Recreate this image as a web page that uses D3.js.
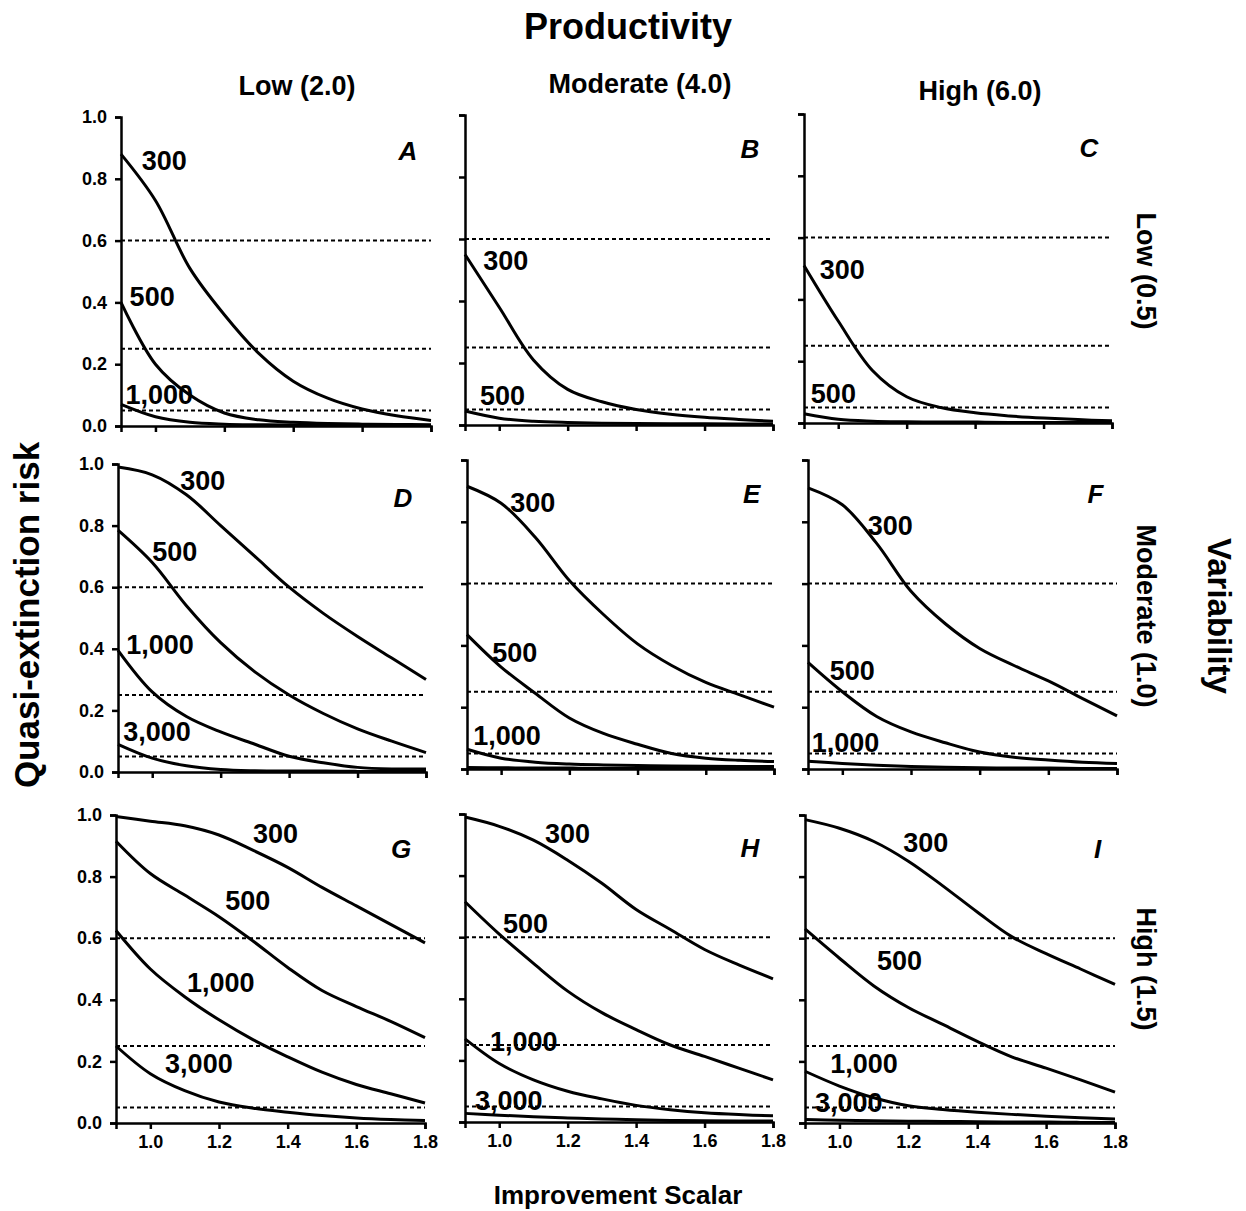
<!DOCTYPE html>
<html lang="en">
	<head>
		<meta charset="utf-8">
		<title>Quasi-extinction risk vs improvement scalar</title>
		<script type="text/javascript" src="https://d3js.org/d3.v7.min.js"></script>
		<style type="text/css">
			body { margin: 0; background: #fff; }
			svg text { font-family: "Liberation Sans", Arial, sans-serif; font-weight: bold; fill: #000; }
		</style>
	</head>
	<body>
		<script type="text/javascript">

			//Width and height
			var w = 1246;
			var h = 1211;

			// improvement scalar values where risk was read
			var scalar = [0.9, 1.0, 1.1, 1.2, 1.3, 1.4, 1.5, 1.6, 1.7, 1.8];
			var xTicks = [1.0, 1.2, 1.4, 1.6, 1.8];
			var yTicks = [0.0, 0.2, 0.4, 0.6, 0.8, 1.0];
			var thresholds = [0.6, 0.25, 0.05];

			var productivity = ["Low (2.0)", "Moderate (4.0)", "High (6.0)"];
			var variability = ["Low (0.5)", "Moderate (1.0)", "High (1.5)"];
			var letters = ["A", "B", "C", "D", "E", "F", "G", "H", "I"];

			// quasi-extinction risk, one array per curve (panel + population size)
			var a300  = [0.88, 0.73, 0.51, 0.36, 0.235, 0.145, 0.09, 0.055, 0.033, 0.018];
			var a500  = [0.40, 0.20, 0.10, 0.042, 0.02, 0.012, 0.008, 0.006, 0.005, 0.004];
			var a1000 = [0.07, 0.03, 0.012, 0.006, 0.004, 0.003, 0.003, 0.002, 0.002, 0.002];

			var b300 = [0.55, 0.38, 0.21, 0.115, 0.075, 0.05, 0.035, 0.025, 0.018, 0.012];
			var b500 = [0.045, 0.022, 0.012, 0.008, 0.006, 0.005, 0.004, 0.004, 0.003, 0.003];

			var c300 = [0.51, 0.33, 0.17, 0.085, 0.05, 0.033, 0.023, 0.016, 0.011, 0.007];
			var c500 = [0.03, 0.012, 0.006, 0.004, 0.003, 0.003, 0.002, 0.002, 0.002, 0.002];

			var d300  = [0.99, 0.965, 0.9, 0.80, 0.70, 0.60, 0.515, 0.44, 0.37, 0.30];
			var d500  = [0.785, 0.68, 0.54, 0.42, 0.325, 0.25, 0.19, 0.14, 0.10, 0.063];
			var d1000 = [0.395, 0.26, 0.18, 0.13, 0.09, 0.051, 0.03, 0.015, 0.01, 0.01];
			var d3000 = [0.09, 0.045, 0.02, 0.008, 0.004, 0.003, 0.003, 0.002, 0.002, 0.002];

			var e300  = [0.915, 0.86, 0.75, 0.61, 0.50, 0.405, 0.335, 0.28, 0.24, 0.20];
			var e500  = [0.435, 0.33, 0.245, 0.165, 0.115, 0.08, 0.05, 0.035, 0.028, 0.024];
			var e1000 = [0.064, 0.035, 0.022, 0.016, 0.013, 0.011, 0.01, 0.009, 0.008, 0.008];
			var e3000 = [0.005, 0.004, 0.003, 0.003, 0.002, 0.002, 0.002, 0.002, 0.002, 0.002];

			var f300  = [0.91, 0.855, 0.73, 0.575, 0.47, 0.39, 0.335, 0.285, 0.228, 0.172];
			var f500  = [0.345, 0.25, 0.17, 0.12, 0.085, 0.055, 0.038, 0.029, 0.022, 0.018];
			var f1000 = [0.025, 0.018, 0.012, 0.008, 0.006, 0.004, 0.003, 0.003, 0.002, 0.002];

			var g300  = [0.995, 0.98, 0.965, 0.935, 0.885, 0.83, 0.765, 0.705, 0.645, 0.585];
			var g500  = [0.915, 0.81, 0.74, 0.67, 0.59, 0.505, 0.43, 0.378, 0.33, 0.277];
			var g1000 = [0.625, 0.50, 0.41, 0.335, 0.27, 0.215, 0.165, 0.125, 0.095, 0.065];
			var g3000 = [0.25, 0.16, 0.105, 0.068, 0.048, 0.035, 0.024, 0.016, 0.011, 0.008];

			var h300  = [0.99, 0.96, 0.915, 0.85, 0.775, 0.69, 0.625, 0.56, 0.51, 0.465];
			var h500  = [0.715, 0.61, 0.515, 0.425, 0.355, 0.30, 0.25, 0.213, 0.175, 0.137];
			var h1000 = [0.27, 0.19, 0.137, 0.10, 0.075, 0.054, 0.04, 0.03, 0.024, 0.02];
			var h3000 = [0.028, 0.022, 0.017, 0.013, 0.01, 0.007, 0.005, 0.004, 0.003, 0.003];

			var i300  = [0.985, 0.957, 0.914, 0.85, 0.77, 0.685, 0.605, 0.55, 0.50, 0.45];
			var i500  = [0.63, 0.535, 0.445, 0.375, 0.32, 0.265, 0.215, 0.178, 0.14, 0.10];
			var i1000 = [0.168, 0.12, 0.082, 0.056, 0.044, 0.035, 0.028, 0.022, 0.017, 0.013];
			var i3000 = [0.011, 0.009, 0.007, 0.006, 0.005, 0.004, 0.003, 0.003, 0.002, 0.002];

			// curves per panel, A..I
			var panelCurves = [
				[a300, a500, a1000],
				[b300, b500],
				[c300, c500],
				[d300, d500, d1000, d3000],
				[e300, e500, e1000, e3000],
				[f300, f500, f1000],
				[g300, g500, g1000, g3000],
				[h300, h500, h1000, h3000],
				[i300, i500, i1000, i3000]
			];

			// curve labels: [text, scalar, risk] where the label sits
			var panelLabels = [
				[["300", 0.960, 0.828], ["500", 0.925, 0.388], ["1,000", 0.913, 0.071]],
				[["300", 0.953, 0.50], ["500", 0.944, 0.065]],
				[["300", 0.946, 0.467], ["500", 0.920, 0.064]],
				[["300", 1.082, 0.915], ["500", 1.000, 0.684], ["1,000", 0.924, 0.382], ["3,000", 0.915, 0.102]],
				[["300", 1.027, 0.832], ["500", 0.974, 0.346], ["1,000", 0.918, 0.078]],
				[["300", 1.074, 0.757], ["500", 0.963, 0.288], ["1,000", 0.911, 0.055]],
				[["300", 1.299, 0.909], ["500", 1.218, 0.692], ["1,000", 1.107, 0.426], ["3,000", 1.043, 0.163]],
				[["300", 1.134, 0.906], ["500", 1.011, 0.614], ["1,000", 0.973, 0.231], ["3,000", 0.929, 0.040]],
				[["300", 1.185, 0.880], ["500", 1.109, 0.497], ["1,000", 0.973, 0.162], ["3,000", 0.929, 0.036]]
			];

			// panel frames in pixels: left, right, top, bottom
			var frames = [
				[121, 431, 117, 426], [465, 773, 115, 425], [804, 1112, 114, 423],
				[118, 426, 464, 772], [467, 774, 460, 769], [808, 1117, 460, 769],
				[116, 425, 815, 1123], [465, 773, 814, 1122], [805, 1115, 815, 1123]
			];

			//Create SVG element
			var svg = d3.select("body")
						.append("svg")
						.attr("width", w)
						.attr("height", h);

			panelCurves.forEach(function(curves, p) {
				var f = frames[p];
				var col = p % 3, row = Math.floor(p / 3);

				var x = d3.scaleLinear().domain([0.9, 1.8]).range([f[0], f[1]]);
				var y = d3.scaleLinear().domain([0, 1]).range([f[3], f[2]]);

				var g = svg.append("g");

				// threshold lines
				g.selectAll("line.thr")
				 .data(thresholds)
				 .enter()
				 .append("line")
				 .attr("x1", x(0.9))
				 .attr("x2", x(1.8))
				 .attr("y1", function(d) { return y(d); })
				 .attr("y2", function(d) { return y(d); })
				 .attr("stroke", "#000")
				 .attr("stroke-width", 2)
				 .attr("stroke-dasharray", "4,3");

				var line = d3.line()
					.x(function(d, i) { return x(scalar[i]); })
					.y(function(d) { return y(d); })
					.curve(d3.curveCatmullRom.alpha(0.5));

				g.selectAll("path.curve")
				 .data(curves)
				 .enter()
				 .append("path")
				 .attr("d", line)
				 .attr("fill", "none")
				 .attr("stroke", "#000")
				 .attr("stroke-width", 3);

				// axes
				var yAxis = d3.axisLeft(y).tickValues(yTicks).tickSize(6).tickPadding(8)
					.tickFormat(col === 0 ? d3.format(".1f") : "");
				var xAxis = d3.axisBottom(x).tickValues(xTicks).tickSize(6).tickPadding(6)
					.tickFormat(row === 2 ? d3.format(".1f") : "");

				var ya = g.append("g").attr("transform", "translate(" + f[0] + ",0)").call(yAxis);
				var xa = g.append("g").attr("transform", "translate(0," + f[3] + ")").call(xAxis);

				[ya, xa].forEach(function(a) {
					a.select(".domain").attr("stroke-width", 2.5);
					a.selectAll(".tick line").attr("stroke-width", 2.5);
					a.selectAll("text").style("font-size", "18px").attr("fill", "#000");
				});

				// curve labels
				g.selectAll("text.lab")
				 .data(panelLabels[p])
				 .enter()
				 .append("text")
				 .attr("x", function(d) { return x(d[1]); })
				 .attr("y", function(d) { return y(d[2]); })
				 .style("font-size", "27px")
				 .text(function(d) { return d[0]; });

				// panel letter
				g.append("text")
				 .attr("x", x(1.76))
				 .attr("y", y(0.86))
				 .attr("text-anchor", "end")
				 .style("font-size", "26px")
				 .style("font-style", "italic")
				 .text(letters[p]);
			});

			// titles
			svg.append("text")
			   .attr("x", 628).attr("y", 39)
			   .attr("text-anchor", "middle")
			   .style("font-size", "36px")
			   .text("Productivity");

			var headX = [297, 640, 980], headY = [95, 93, 100];
			svg.selectAll("text.head")
			   .data(productivity)
			   .enter()
			   .append("text")
			   .attr("x", function(d, i) { return headX[i]; })
			   .attr("y", function(d, i) { return headY[i]; })
			   .attr("text-anchor", "middle")
			   .style("font-size", "27px")
			   .text(function(d) { return d; });

			var rowY = [271, 616, 969];
			svg.selectAll("text.rowlab")
			   .data(variability)
			   .enter()
			   .append("text")
			   .attr("transform", function(d, i) { return "translate(1137," + rowY[i] + ") rotate(90)"; })
			   .attr("text-anchor", "middle")
			   .style("font-size", "27px")
			   .text(function(d) { return d; });

			svg.append("text")
			   .attr("transform", "translate(1208,616) rotate(90)")
			   .attr("text-anchor", "middle")
			   .style("font-size", "33px")
			   .text("Variability");

			svg.append("text")
			   .attr("transform", "translate(39,615) rotate(-90)")
			   .attr("text-anchor", "middle")
			   .style("font-size", "35px")
			   .text("Quasi-extinction risk");

			svg.append("text")
			   .attr("x", 618).attr("y", 1204)
			   .attr("text-anchor", "middle")
			   .style("font-size", "26px")
			   .text("Improvement Scalar");

		</script>
	</body>
</html>
